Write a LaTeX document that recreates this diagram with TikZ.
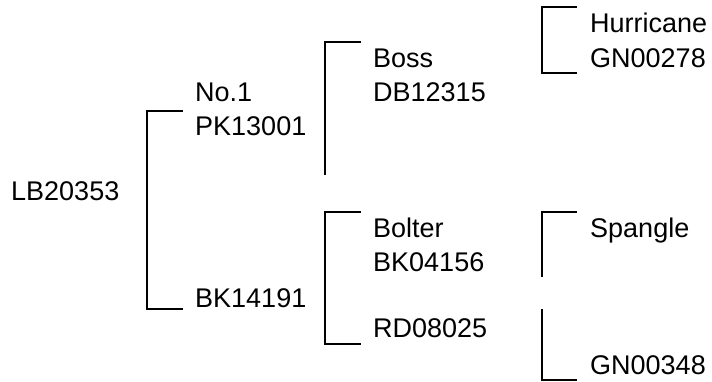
\documentclass[tikz,border=0pt]{standalone}
\usepackage{fontspec}
\setmainfont{Liberation Sans}
\begin{document}
\begin{tikzpicture}[x=1pt,y=-1pt,
  lbl/.style={anchor=base west,inner sep=0pt,font=\fontsize{27}{34}\selectfont},
  brk/.style={draw=black,line width=2pt}]
\useasboundingbox (0,0) rectangle (712,382);
% text nodes
\node[lbl] (lb) at (11,201) {LB20353};
\node[lbl] (no1) at (195,102) {No.1};
\node[lbl] (pk) at (195,136) {PK13001};
\node[lbl] (bk14) at (195,307) {BK14191};
\node[lbl] (boss) at (373,68) {Boss};
\node[lbl] (db) at (373,102) {DB12315};
\node[lbl] (bolter) at (373,237) {Bolter};
\node[lbl] (bk04) at (373,271) {BK04156};
\node[lbl] (rd) at (373,337) {RD08025};
\node[lbl] (hur) at (590,33) {Hurricane};
\node[lbl] (gn278) at (590,68) {GN00278};
\node[lbl] (spa) at (590,237) {Spangle};
\node[lbl] (gn348) at (590,374) {GN00348};
% bracket corners
\coordinate (a1) at (183,111); \coordinate (a2) at (147,111);
\coordinate (a3) at (147,309); \coordinate (a4) at (183,309);
\coordinate (b1) at (361,42); \coordinate (b2) at (325,42); \coordinate (b3) at (325,175);
\coordinate (c1) at (361,212); \coordinate (c2) at (325,212);
\coordinate (c3) at (325,344); \coordinate (c4) at (361,344);
\coordinate (d1) at (577,7); \coordinate (d2) at (542,7);
\coordinate (d3) at (542,73); \coordinate (d4) at (577,73);
\coordinate (e1) at (577,212); \coordinate (e2) at (542,212); \coordinate (e3) at (542,277);
\coordinate (f1) at (542,309); \coordinate (f2) at (542,380); \coordinate (f3) at (577,380);
\draw[brk] (a1) -- (a2) -- (a3) -- (a4);
\draw[brk] (b1) -- (b2) -- (b3);
\draw[brk] (c1) -- (c2) -- (c3) -- (c4);
\draw[brk] (d1) -- (d2) -- (d3) -- (d4);
\draw[brk] (e1) -- (e2) -- (e3);
\draw[brk] (f1) -- (f2) -- (f3);
\end{tikzpicture}
\end{document}
